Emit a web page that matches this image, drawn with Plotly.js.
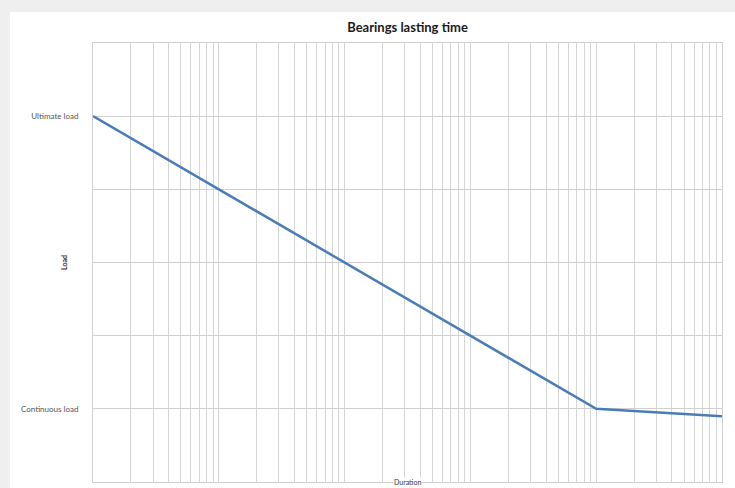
<!DOCTYPE html>
<html>
<head>
<meta charset="utf-8">
<script src="https://cdn.plot.ly/plotly-3.0.1.min.js"></script>
<style>html,body{margin:0;padding:0;background:#efefef;}#chart{width:735px;height:488px;}</style>
</head>
<body>
<div id="chart"></div>
<script>
// Data
var duration = [1, 10000, 100000];
var load = [5, 1, 0.9];
var loadTickVals = [0, 1, 2, 3, 4, 5, 6];
var loadTickText = ["", "Continuous load", "", "", "", "Ultimate load", ""];
var chartTitle = "Bearings lasting time";
var xTitle = "Duration";
var yTitle = "Load";

var trace = {
  x: duration,
  y: load,
  type: "scatter",
  mode: "lines",
  line: {color: "#4a7db5", width: 2.5},
  hoverinfo: "skip"
};

var layout = {
  width: 735,
  height: 488,
  margin: {l: 93, r: 13, t: 43, b: 6},
  paper_bgcolor: "#efefef",
  plot_bgcolor: "#ffffff",
  showlegend: false,
  font: {family: "Lato, 'Open Sans', sans-serif", color: "#595959"},
  title: {
    text: "<b>" + chartTitle + "</b>",
    font: {family: "Lato, sans-serif", size: 13, color: "#1a1a1a"},
    x: 0.5, xref: "paper", y: 0.943, yanchor: "middle"
  },
  xaxis: {
    type: "log",
    range: [0, 5],
    dtick: "D1",
    showticklabels: false,
    ticks: "",
    showgrid: true,
    gridcolor: "#d6d6d6",
    gridwidth: 1,
    showline: true,
    linecolor: "#d0d0d0",
    mirror: true,
    zeroline: false,
    fixedrange: true
  },
  yaxis: {
    range: [0, 6],
    tickvals: loadTickVals,
    ticktext: loadTickText,
    tickfont: {size: 8, color: "#555555"},
    ticks: "",
    ticklabelstandoff: 12,
    showgrid: true,
    gridcolor: "#d0d0d0",
    gridwidth: 1,
    showline: true,
    linecolor: "#d0d0d0",
    mirror: true,
    zeroline: false,
    fixedrange: true
  },
  shapes: [{
    type: "rect", xref: "paper", yref: "paper", layer: "below",
    x0: -0.132, x1: 1.03, y0: -0.1, y1: 1.0706,
    fillcolor: "#ffffff", line: {width: 0}
  }],
  annotations: [
    {
      text: "<b>" + yTitle + "</b>", xref: "paper", yref: "paper",
      x: -0.047, y: 0.5, xanchor: "center", yanchor: "middle",
      textangle: -90, showarrow: false,
      font: {size: 7, color: "#333333"}
    },
    {
      text: xTitle, xref: "paper", yref: "paper",
      x: 0.5, y: -0.0125, xanchor: "center", yanchor: "bottom",
      showarrow: false, bgcolor: "#ffffff", borderpad: 0,
      font: {size: 7, color: "#333333"}
    }
  ]
};

Plotly.newPlot("chart", [trace], layout, {displayModeBar: false, staticPlot: true});
</script>
</body>
</html>
